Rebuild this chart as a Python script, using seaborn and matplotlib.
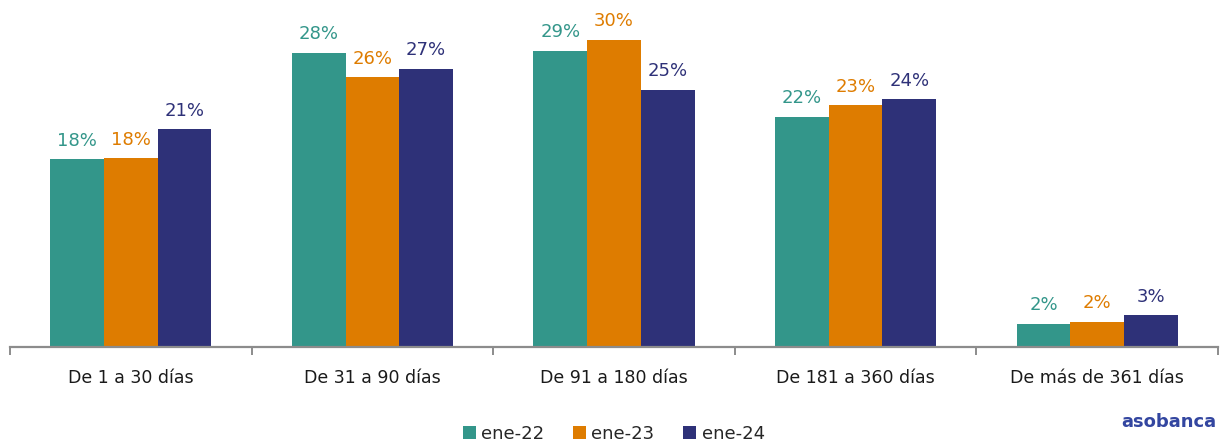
import matplotlib
matplotlib.use("Agg")
import matplotlib.pyplot as plt
import pandas as pd
import seaborn as sns

# datos (porcentajes)
categorias = ["De 1 a 30 días", "De 31 a 90 días", "De 91 a 180 días",
              "De 181 a 360 días", "De más de 361 días"]
series = ["ene-22", "ene-23", "ene-24"]
ene_22 = [18.1, 28.4, 28.6, 22.2, 2.25]
ene_23 = [18.2, 26.0, 29.6, 23.3, 2.4]
ene_24 = [21.0, 26.8, 24.8, 23.9, 3.06]
colores = ["#33968A", "#DE7C00", "#2E3178"]

df = pd.DataFrame({
    "categoria": categorias * 3,
    "serie": [s for s in series for _ in categorias],
    "valor": ene_22 + ene_23 + ene_24,
})

sns.set_theme(style="white")
plt.rcParams["font.family"] = ["DejaVu Sans"]

fig = plt.figure(figsize=(12.2, 4.44), dpi=100)
ax = fig.add_axes([10 / 1220, 97 / 444, 1208 / 1220, 340 / 444])

sns.barplot(data=df, x="categoria", y="valor", hue="serie", palette=colores,
            saturation=1, width=0.667, gap=0, linewidth=0, ax=ax, legend=True)

# etiquetas de valor
for cont, col in zip(ax.containers, colores):
    ax.bar_label(cont, labels=[f"{v:.0f}%" for v in cont.datavalues],
                 padding=7, color=col, fontsize=13)

ax.set_xlim(-0.5, 4.5)
ax.set_ylim(0, 32.8)
ax.set_xlabel("")
ax.set_ylabel("")
ax.set_yticks([])
for s in ["top", "right", "left"]:
    ax.spines[s].set_visible(False)
ax.spines["bottom"].set_color("#8c8c8c")
ax.spines["bottom"].set_linewidth(1.6)

ax.set_xticks(range(len(categorias)))
ax.set_xticklabels(categorias, fontsize=12.5, color="#1a1a1a")
ax.tick_params(axis="x", which="major", length=0, pad=16)
ax.set_xticks([i - 0.5 for i in range(len(categorias) + 1)], minor=True)
ax.tick_params(axis="x", which="minor", bottom=True, length=6, width=1.4,
               color="#8c8c8c", direction="out")

handles, labels = ax.get_legend_handles_labels()
ax.legend(handles, labels, loc="center", bbox_to_anchor=(0.5, -0.255),
          ncol=3, frameon=False, fontsize=13, handlelength=0.7,
          handleheight=0.7, handletextpad=0.3, columnspacing=1.6)

fig.text(0.997, 0.03, "asobanca", ha="right", va="bottom", fontsize=13,
         fontweight="bold", color="#3346A0")

fig.savefig("out.png", dpi=100)
